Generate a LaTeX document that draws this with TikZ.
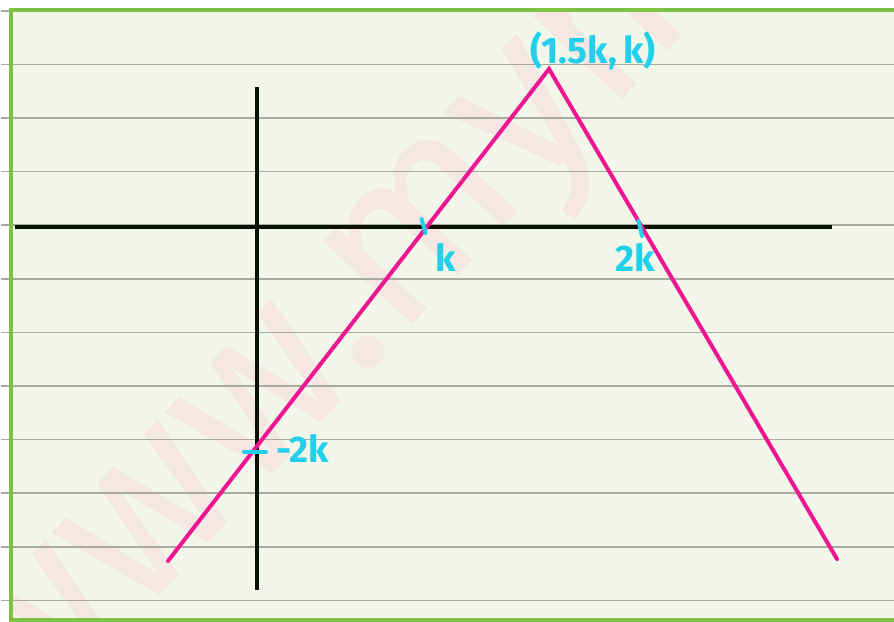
\documentclass[tikz,border=0pt]{standalone}
\usepackage{fontspec}
\setmainfont{Fira Sans}
\definecolor{paper}{RGB}{242,247,234}
\definecolor{rule}{RGB}{168,171,160}
\definecolor{frame}{RGB}{125,194,66}
\definecolor{axis}{RGB}{10,16,6}
\definecolor{pinkline}{RGB}{238,22,145}
\definecolor{cyanink}{RGB}{35,208,235}
\definecolor{wmark}{RGB}{244,231,228}
\begin{document}
\begin{tikzpicture}[x=1pt,y=-1pt,
  ruleline/.style={draw=rule,line width=1.6pt},
  axisline/.style={draw=axis,line width=4.5pt},
  graphline/.style={draw=pinkline,line width=4pt,line cap=round,line join=miter},
  tickmark/.style={draw=cyanink,line width=4pt,line cap=round},
  lab/.style={text=cyanink,font=\fontsize{37}{37}\selectfont\bfseries,inner sep=0pt}]
\useasboundingbox (0,0) rectangle (894,621);
\fill[white] (0,0) rectangle (894,621);
\fill[paper] (11,10) rectangle (894,621);
% watermark
\begin{scope}
\clip (11,10) rectangle (894,621);
\node[text=wmark,font=\fontsize{230}{230}\selectfont,rotate=47,anchor=base west,inner sep=0pt] (wm) at (25,740) {www.mymathscloud};
\end{scope}
% ruled lines
\foreach \yy in {10.7,64.3,117.9,171.5,225.1,278.7,332.3,385.9,439.5,493.1,546.7,600.3} {
  \draw[ruleline] (1,\yy) -- (894,\yy);
}
% frame
\draw[frame,line width=4pt] (900,10) -- (11,10) -- (11,619.5) -- (900,619.5);
% axes
\coordinate (xl) at (15,227);
\coordinate (xr) at (832,227);
\coordinate (yt) at (257,87);
\coordinate (yb) at (257,590);
\draw[axisline] (xl) -- (xr);
\draw[axisline] (yt) -- (yb);
% graph
\coordinate (pl) at (168,561);
\coordinate (apex) at (549,69);
\coordinate (pr) at (837,559);
\draw[graphline] (pl) -- (apex) -- (pr);
% ticks
\coordinate (t1a) at (421.5,219);
\coordinate (t1b) at (425.5,233);
\coordinate (t2a) at (638.5,221);
\coordinate (t2b) at (642,236);
\coordinate (t3a) at (244,451.5);
\coordinate (t3b) at (266,451.5);
\draw[tickmark] (t1a) -- (t1b);
\draw[tickmark] (t2a) -- (t2b);
\draw[tickmark] (t3a) -- (t3b);
% labels
\node[lab,anchor=base] (lapex) at (593,63) {(1.5k,\,k)};
\node[lab,anchor=base] (lk) at (446,271) {k};
\node[lab,anchor=base] (l2k) at (635,271) {2k};
\node[lab,anchor=base west] (lm2k) at (276,462) {-2k};
\end{tikzpicture}
\end{document}
